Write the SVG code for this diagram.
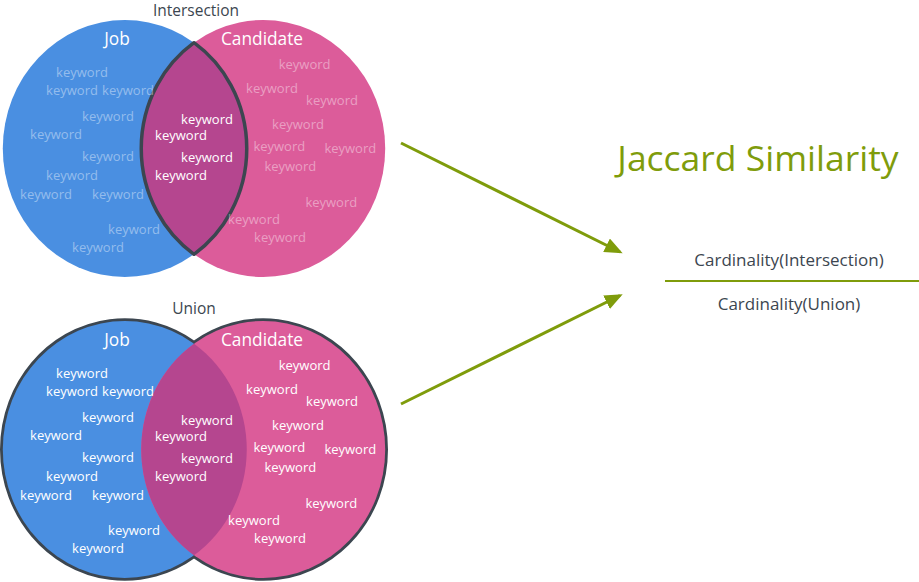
<svg xmlns="http://www.w3.org/2000/svg" width="919" height="582" viewBox="0 0 919 582">
<style>
text{font-family:"Open Sans","Noto Sans","Liberation Sans",sans-serif}
.kw{font-size:13px;fill:#fff;text-anchor:middle}
.fade{fill-opacity:0.42}
.lbl{font-size:17.3px;fill:#fff;text-anchor:middle}
.ttl{font-size:15.5px;fill:#3c4650;text-anchor:middle}
.frm{font-size:17px;fill:#3c4650;text-anchor:middle}
.blue{fill:#4a8fe1}
.pink{fill:#dc5c9a}
.lens{fill:#b5468f}
.conn{stroke:#7f9c0b;stroke-width:3;fill:none}
</style>
<defs>
<marker id="ah" markerWidth="6" markerHeight="5" refX="5" refY="2.5" orient="auto" markerUnits="strokeWidth">
<path d="M0,0 L6,2.5 L0,5 Z" fill="#7f9c0b"/>
</marker>
</defs>

<g id="intersection">
<text class="ttl" x="196" y="15.5">Intersection</text>
<ellipse class="blue" cx="124.8" cy="148.5" rx="122" ry="128.5"/>
<ellipse class="pink" cx="263.2" cy="148.5" rx="122" ry="128.5"/>
<path class="lens" d="M194,42.7 A122,128.5 0 0 0 194,254.3 A122,128.5 0 0 0 194,42.7 Z" stroke="#3c4650" stroke-width="3.5" stroke-linejoin="round"/>
<text class="lbl" x="117" y="45">Job</text>
<text class="lbl" x="262" y="45">Candidate</text>
<g class="kw fade">
<text x="82" y="77.3">keyword</text>
<text x="72" y="95.3">keyword</text>
<text x="128" y="95.3">keyword</text>
<text x="108" y="121.3">keyword</text>
<text x="56" y="139.3">keyword</text>
<text x="108" y="161.3">keyword</text>
<text x="72" y="180">keyword</text>
<text x="46" y="198.7">keyword</text>
<text x="118" y="198.7">keyword</text>
<text x="134" y="234.3">keyword</text>
<text x="98" y="252.3">keyword</text>
<text x="304.6" y="69.3">keyword</text>
<text x="272" y="93.3">keyword</text>
<text x="332" y="105">keyword</text>
<text x="298" y="129.3">keyword</text>
<text x="279.3" y="151.3">keyword</text>
<text x="350.3" y="153.3">keyword</text>
<text x="290.3" y="171.3">keyword</text>
<text x="331.3" y="206.7">keyword</text>
<text x="254" y="224">keyword</text>
<text x="280" y="242.3">keyword</text>
</g>
<g class="kw">
<text x="207" y="124">keyword</text>
<text x="181" y="140">keyword</text>
<text x="207" y="162">keyword</text>
<text x="181" y="180">keyword</text>
</g>
</g>

<g id="union">
<text class="ttl" x="194" y="314">Union</text>
<path d="M194,343.7 A122,128.5 0 1 0 194,555.3 A122,128.5 0 1 0 194,343.7 Z" fill="none" stroke="#3c4650" stroke-width="5.5"/>
<ellipse class="blue" cx="124.8" cy="449.5" rx="122" ry="128.5"/>
<ellipse class="pink" cx="263.2" cy="449.5" rx="122" ry="128.5"/>
<path class="lens" d="M194,343.7 A122,128.5 0 0 0 194,555.3 A122,128.5 0 0 0 194,343.7 Z"/>
<text class="lbl" x="117" y="346">Job</text>
<text class="lbl" x="262" y="346">Candidate</text>
<g class="kw">
<text x="82" y="378.3">keyword</text>
<text x="72" y="396.3">keyword</text>
<text x="128" y="396.3">keyword</text>
<text x="108" y="422.3">keyword</text>
<text x="56" y="440.3">keyword</text>
<text x="108" y="462.3">keyword</text>
<text x="72" y="481">keyword</text>
<text x="46" y="499.7">keyword</text>
<text x="118" y="499.7">keyword</text>
<text x="134" y="535.3">keyword</text>
<text x="98" y="553.3">keyword</text>
<text x="304.6" y="370.3">keyword</text>
<text x="272" y="394.3">keyword</text>
<text x="332" y="406">keyword</text>
<text x="298" y="430.3">keyword</text>
<text x="279.3" y="452.3">keyword</text>
<text x="350.3" y="454.3">keyword</text>
<text x="290.3" y="472.3">keyword</text>
<text x="331.3" y="507.7">keyword</text>
<text x="254" y="525">keyword</text>
<text x="280" y="543.3">keyword</text>
<text x="207" y="425">keyword</text>
<text x="181" y="441">keyword</text>
<text x="207" y="463">keyword</text>
<text x="181" y="481">keyword</text>
</g>
</g>

<g id="jaccard">
<text x="758" y="171" style="font-size:35.5px;fill:#7f9c0b;text-anchor:middle">Jaccard Similarity</text>
<text class="frm" x="789" y="266">Cardinality(Intersection)</text>
<line x1="665" y1="281" x2="919" y2="281" stroke="#7f9c0b" stroke-width="2"/>
<text class="frm" x="789" y="310">Cardinality(Union)</text>
</g>

<g id="connectors">
<line class="conn" x1="401" y1="143" x2="620" y2="252" marker-end="url(#ah)"/>
<line class="conn" x1="401" y1="404" x2="620" y2="295.5" marker-end="url(#ah)"/>
</g>
</svg>
